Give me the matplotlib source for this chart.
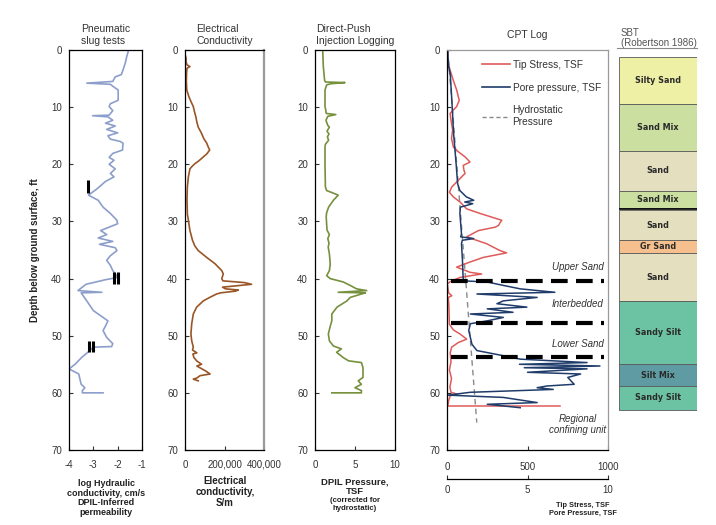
import matplotlib
matplotlib.use('Agg')
import matplotlib.pyplot as plt
from matplotlib.lines import Line2D

plt.rcParams['font.family'] = ['Liberation Sans', 'DejaVu Sans']
plt.rcParams['axes.unicode_minus'] = False

# ---------------- data ----------------
depth_ticks = [0, 10, 20, 30, 40, 50, 60, 70]

# Pneumatic slug tests / DPIL-inferred log K
k_depth = [0, 1.2, 2.3, 3.5, 4.3, 4.7, 5.5, 5.8, 6.0, 6.5, 7.0, 8.8, 9.4, 9.9, 10.6, 11.4, 11.5, 11.7,
           12.3, 12.8, 13.3, 13.9, 14.5, 15.0, 15.6, 16.0, 16.3, 17.5, 18.1, 18.8, 19.3, 20.0, 20.8,
           21.6, 22.2, 23.0, 24.3, 25.4, 26.3, 27.5, 28.6, 29.8, 30.4, 31.6, 32.3, 32.9, 33.5, 34.0,
           34.6, 35.1, 36.0, 36.8, 37.7, 38.6, 39.8, 40.2, 41.0, 42.1, 42.4, 42.5, 43.9, 45.6, 46.8,
           47.4, 48.3, 49.1, 50.3, 51.4, 51.9, 52.0, 52.6, 53.8, 55.0, 55.8, 56.7, 57.6, 58.5, 59.1,
           59.6, 60.0, 60.0]
k_value = [-1.55, -1.63, -1.69, -1.78, -1.85, -2.1, -2.2, -3.27, -2.3, -2.15, -1.98, -1.98, -2.3, -2.35,
           -2.2, -2.35, -3.03, -2.4, -2.2, -2.5, -2.1, -2.45, -2.0, -2.4, -2.3, -1.9, -1.78, -1.8, -2.2,
           -2.35, -2.15, -2.35, -2.1, -2.3, -2.15, -2.5, -2.85, -3.2, -2.8, -2.6, -2.3, -2.03, -2.0,
           -2.7, -2.45, -2.8, -2.2, -2.75, -2.1, -2.03, -2.3, -2.45, -2.3, -2.2, -2.0, -2.5, -3.3,
           -3.63, -2.65, -3.5, -3.27, -3.0, -2.6, -2.4, -2.5, -2.6, -2.45, -2.2, -2.25, -3.0, -3.14,
           -3.48, -3.75, -4.0, -3.6, -3.55, -3.5, -3.35, -3.45, -3.45, -2.6]

# slug test results (vertical bars)
slug_top = [22.8, 38.9, 38.9, 50.9, 50.9]
slug_bottom = [25.1, 40.9, 40.9, 52.9, 52.9]
slug_k = [-3.23, -2.14, -1.97, -3.18, -3.0]

# Electrical conductivity
ec_depth = [1.0, 1.5, 2.0, 2.6, 2.9, 3.2, 4.0, 5.5, 7.0, 8.2, 9.0, 9.9, 10.8, 11.7, 12.6, 13.5, 14.6,
            15.5, 16.3, 17.0, 17.5, 18.2, 18.7, 19.4, 19.9, 20.4, 20.8, 22.2, 24.0, 26.0, 28.7, 29.8,
            31.6, 33.3, 34.3, 35.1, 36.3, 37.4, 38.6, 39.2, 40.0, 40.4, 40.7, 41.0, 41.3, 41.5, 41.8,
            42.0, 42.2, 42.5, 42.7, 43.3, 43.9, 45.0, 46.2, 47.9, 49.7, 50.9, 52.0, 52.5, 53.0, 53.2,
            53.8, 54.4, 55.0, 55.3, 55.6, 56.1, 56.7, 57.0, 57.4, 57.6, 57.9]
ec_value = [2000, 6000, 5000, 10000, 25000, 10000, 8000, 7000, 9000, 20000, 30000, 42000, 48000,
            55000, 60000, 67000, 84000, 95000, 110000, 118000, 125000, 110000, 93000, 70000, 50000,
            35000, 25000, 17000, 12000, 10000, 12000, 17000, 25000, 38000, 50000, 67000, 110000,
            152000, 186000, 194000, 186000, 192000, 300000, 337000, 250000, 190000, 205000, 270000,
            255000, 180000, 160000, 125000, 93000, 59000, 42000, 34000, 30000, 34000, 42000, 38000,
            60000, 40000, 45000, 59000, 84000, 60000, 75000, 101000, 127000, 76000, 60000, 42000, 67000]

# Direct-push injection logging pressure
dp_depth = [0, 2.9, 5.3, 5.6, 5.7, 5.9, 6.1, 7.0, 9.9, 10.5, 11.1, 11.3, 11.6, 12.3, 13.2, 13.5, 14.2,
            14.7, 15.2, 15.8, 16.5, 17.0, 20.0, 24.0, 24.6, 25.0, 25.4, 26.3, 27.5, 28.5, 29.2, 31.5,
            32.3, 33.0, 33.8, 34.5, 35.7, 36.5, 37.5, 38.6, 39.5, 40.0, 40.6, 41.2, 41.8, 42.1, 42.4,
            42.5, 42.7, 43.3, 43.9, 45.0, 46.2, 47.4, 48.5, 49.7, 50.9, 51.8, 52.3, 52.9, 53.8, 54.4,
            54.7, 55.6, 57.3, 57.9, 58.5, 59.1, 59.6, 60.0, 60.0]
dp_value = [0.96, 1.04, 1.2, 1.3, 3.75, 2.0, 1.46, 1.25, 1.25, 1.35, 1.4, 2.6, 1.6, 1.37, 1.6, 1.8, 1.5,
            1.75, 1.55, 1.7, 1.3, 1.25, 1.25, 1.3, 1.46, 2.2, 2.9, 2.3, 1.7, 1.45, 1.4, 1.5, 1.8, 1.6,
            1.75, 1.65, 1.8, 1.85, 1.9, 1.8, 1.46, 1.9, 3.54, 4.4, 5.2, 6.46, 2.9, 6.3, 5.8, 4.4, 4.0,
            2.75, 2.1, 2.1, 1.875, 1.67, 1.8, 2.3, 3.3, 2.7, 3.5, 4.2, 5.8, 6.0, 6.0, 5.4, 5.8, 5.0,
            5.8, 5.8, 2.1]

# CPT tip stress (TSF)
tip_depth = [0, 1.75, 3.5, 5.3, 7.0, 8.8, 9.9, 11.1, 12.3, 14.0, 15.5, 17.0, 17.8, 18.7, 19.6, 20.2,
             21.0, 21.6, 22.8, 24.0, 24.9, 25.7, 26.6, 27.8, 28.6, 29.8, 30.2, 30.7, 31.0, 31.6, 32.7,
             33.9, 35.1, 35.5, 36.3, 37.1, 38.0, 38.9, 39.2, 39.8, 40.4, 40.9, 42.5, 43.0, 43.3, 45.0,
             48.0, 49.0, 49.7, 50.6, 51.2, 52.0, 53.0, 54.5, 56.0, 57.5, 59.0, 59.9, 60.2, 60.5, 61.4,
             62.3, 62.3]
tip_value = [5, 2, 19, 39, 60, 76, 60, 19, 25, 35, 28, 40, 70, 112, 143, 101, 105, 112, 70, 29, 15, 39,
             81, 122, 205, 340, 330, 320, 300, 195, 122, 246, 329, 370, 225, 143, 60, 143, 215, 81, 29,
             2, 10, 30, 8, 12, 15, 40, 81, 122, 70, 29, 20, 25, 15, 28, 18, 25, 60, 20, 10, 5, 702]

# CPT pore pressure (TSF)
pore_depth = [0, 2.9, 4.1, 8.8, 14.6, 20.4, 23.4, 24.6, 25.7, 26.3, 26.6, 26.9, 27.5, 28.6, 32.2, 32.7,
              33.0, 33.3, 33.9, 36.8, 39.8, 40.4, 40.6, 41.2, 41.8, 42.4, 42.7, 43.3, 43.9, 44.4, 45.0,
              45.3, 45.9, 46.2, 46.8, 47.4, 47.9, 49.1, 50.3, 51.5, 52.6, 53.5, 54.1, 54.7, 55.0, 55.3,
              55.6, 55.8, 56.4, 56.7, 57.3, 57.9, 58.5, 58.8, 59.1, 59.4, 59.9, 60.4, 60.8, 61.7, 62.0,
              62.6]
pore_value = [0.04, 0.1, 0.2, 0.3, 0.41, 0.58, 0.66, 0.8, 1.2, 1.66, 1.1, 1.6, 0.83, 0.8, 0.9, 0.85,
              1.66, 0.95, 0.9, 0.96, 1.0, 1.04, 2.5, 3.5, 4.55, 6.7, 1.86, 5.6, 3.5, 3.1, 4.96, 2.5,
              4.1, 1.45, 3.5, 2.5, 1.45, 1.35, 1.45, 1.55, 1.86, 3.5, 4.55, 8.7, 4.5, 9.5, 4.8, 8.7,
              5.0, 8.3, 7.5, 7.7, 7.9, 6.2, 5.6, 6.6, 1.45, 0.05, 3.5, 5.6, 2.5, 4.55]

# Hydrostatic pressure (TSF)
hydro_depth = [0, 65.2]
hydro_value = [0.05, 1.85]

# Unit boundaries and labels
unit_depths = [40.5, 47.7, 53.7]
unit_labels = ['Upper Sand', 'Interbedded', 'Lower Sand', 'Regional\nconfining unit']
unit_label_depths = [38.0, 44.4, 51.5, 65.5]

# SBT (Robertson 1986)
sbt_names = ['Silty Sand', 'Sand Mix', 'Sand', 'Sand Mix', 'Sand', 'Gr Sand', 'Sand',
             'Sandy Silt', 'Silt Mix', 'Sandy Silt']
sbt_top = [1.2, 9.5, 17.7, 24.6, 28.0, 33.3, 35.6, 44.0, 55.0, 58.8]
sbt_bottom = [9.5, 17.7, 24.6, 27.7, 33.3, 35.6, 44.0, 55.0, 58.8, 63.0]
sbt_colors = ['#EEF0A6', '#CADFA0', '#E4DFBF', '#CADFA0', '#E4DFBF', '#F6C08E', '#E4DFBF',
              '#6CC3A3', '#5E9BA2', '#6CC3A3']

# ---------------- figure ----------------
W, H = 716, 525
fig = plt.figure(figsize=(W / 100, H / 100), dpi=100)
TXT = '#333333'


def add_ax(left, right, top=50, bottom=450):
    return fig.add_axes([left / W, 1 - bottom / H, (right - left) / W, (bottom - top) / H])


def style_depth(ax):
    ax.set_ylim(70, 0)
    ax.set_yticks(depth_ticks)
    ax.tick_params(direction='in', length=3, width=0.8, labelsize=7, colors=TXT, pad=5)
    ax.tick_params(axis='x', pad=7)
    for s in ax.spines.values():
        s.set_linewidth(0.9)


def title(ax, t, pad=4):
    ax.set_title(t, fontsize=7.5, color=TXT, pad=pad, multialignment='left', linespacing=1.25)


# Panel 1
ax1 = add_ax(69, 142)
style_depth(ax1)
ax1.plot(k_value, k_depth, color='#8C9FCB', lw=1.2)
ax1.vlines(slug_k, slug_top, slug_bottom, colors='black', lw=2.2)
ax1.set_xlim(-4, -1)
ax1.set_xticks([-4, -3, -2, -1])
title(ax1, 'Pneumatic\nslug tests')

# Panel 2
ax2 = add_ax(185, 264)
style_depth(ax2)
ax2.plot(ec_value, ec_depth, color='#9A5527', lw=1.2)
ax2.set_xlim(0, 400000)
ax2.set_xticks([0, 200000, 400000])
ax2.set_xticklabels(['0', '200,000', '400,000'])
ax2.spines['right'].set_color('#9A9A9A')
ax2.spines['right'].set_linewidth(1.6)
title(ax2, 'Electrical\nConductivity')

# Panel 3
ax3 = add_ax(315, 395)
style_depth(ax3)
ax3.plot(dp_value, dp_depth, color='#76903C', lw=1.2)
ax3.set_xlim(0, 10)
ax3.set_xticks([0, 5, 10])
title(ax3, 'Direct-Push\nInjection Logging')

# Panel 4 (CPT)
ax4 = add_ax(447, 608)
style_depth(ax4)
ax4.set_xlim(0, 1000)
ax4.set_xticks([0, 500, 1000])
ax4.tick_params(axis='x', pad=9)
tip_c, pore_c, hyd_c = '#E05A5A', '#1F3C6B', '#8A8A8A'
ax4.plot([v * 100 for v in hydro_value], hydro_depth, color=hyd_c, lw=1.0, ls=(0, (4, 3)))
ax4.plot(tip_value, tip_depth, color=tip_c, lw=1.1)
ax4.plot([v * 100 for v in pore_value], pore_depth, color=pore_c, lw=1.1)
ax4.hlines(unit_depths, 25, 975, colors='black', lw=3.0, linestyles=(0, (4, 2)))
for lab, d in zip(unit_labels, unit_label_depths):
    ax4.text(810, d, lab, ha='center', va='center', fontsize=7, style='italic', color=TXT,
             linespacing=1.1)
for s in ['top', 'right']:
    ax4.spines[s].set_color('#9A9A9A')
title(ax4, 'CPT Log', pad=9)
handles = [Line2D([], [], color=tip_c, lw=1.2), Line2D([], [], color=pore_c, lw=1.2),
           Line2D([], [], color=hyd_c, lw=1.0, ls=(0, (3, 2)))]
ax4.legend(handles, ['Tip Stress, TSF', 'Pore pressure, TSF', 'Hydrostatic\nPressure'],
           loc='upper left', bbox_to_anchor=(0.215, 0.975), frameon=False, fontsize=7.3,
           handlelength=2.8, handletextpad=0.25, labelspacing=1.25, borderpad=0, borderaxespad=0,
           labelcolor=TXT)

sec = ax4.secondary_xaxis(-29 / 400, functions=(lambda x: x / 100, lambda x: x * 100))
sec.set_xticks([0, 5, 10])
sec.tick_params(direction='in', length=3, width=0.8, labelsize=7, colors=TXT, pad=4)
sec.spines['bottom'].set_linewidth(0.9)

# SBT column
ax5 = add_ax(619, 697)
ax5.set_ylim(70, 0)
ax5.set_xlim(0, 1)
ax5.axis('off')
for name, t, b, c in zip(sbt_names, sbt_top, sbt_bottom, sbt_colors):
    ax5.bar(0.5, b - t, bottom=t, width=1.0, color=c, edgecolor='#5a5a5a', linewidth=0.6)
    ax5.text(0.5, (t + b) / 2, name, ha='center', va='center', fontsize=5.8, fontweight='bold',
             color='#2a2a2a', family='DejaVu Sans')
ax5.plot([0, 1], [27.8, 27.8], color='black', lw=1.2)
fig.text(621 / W, 1 - 28 / H, 'SBT\n(Robertson 1986)', ha='left', va='top', fontsize=7,
         color='#555555', linespacing=1.0)
fig.add_artist(Line2D([617 / W, 697 / W], [1 - 48 / H, 1 - 48 / H], color='#888888', lw=0.8))

# axis labels
fig.text(35 / W, 1 - 250 / H, 'Depth below ground surface, ft', rotation=90, ha='center',
         va='center', fontsize=7, fontweight='bold', color='#222222')
fig.text(106 / W, 1 - 479 / H, 'log Hydraulic\nconductivity, cm/s\nDPIL-Inferred\npermeability',
         ha='center', va='top', fontsize=6.5, fontweight='bold', color='#222222', linespacing=1.1)
fig.text(225 / W, 1 - 476 / H, 'Electrical\nconductivity,\nS/m', ha='center', va='top',
         fontsize=7, fontweight='bold', color='#222222', linespacing=1.1)
fig.text(355 / W, 1 - 477 / H, 'DPIL Pressure,\nTSF', ha='center', va='top', fontsize=6.8,
         fontweight='bold', color='#222222', linespacing=1.1)
fig.text(355 / W, 1 - 497 / H, '(corrected for\nhydrostatic)', ha='center', va='top', fontsize=5.6,
         fontweight='bold', color='#222222', linespacing=1.1)
fig.text(583 / W, 1 - 502 / H, 'Tip Stress, TSF\nPore Pressure, TSF', ha='center', va='top',
         fontsize=5.3, fontweight='bold', color='#222222', linespacing=1.1)

fig.savefig('out.png', dpi=100)
